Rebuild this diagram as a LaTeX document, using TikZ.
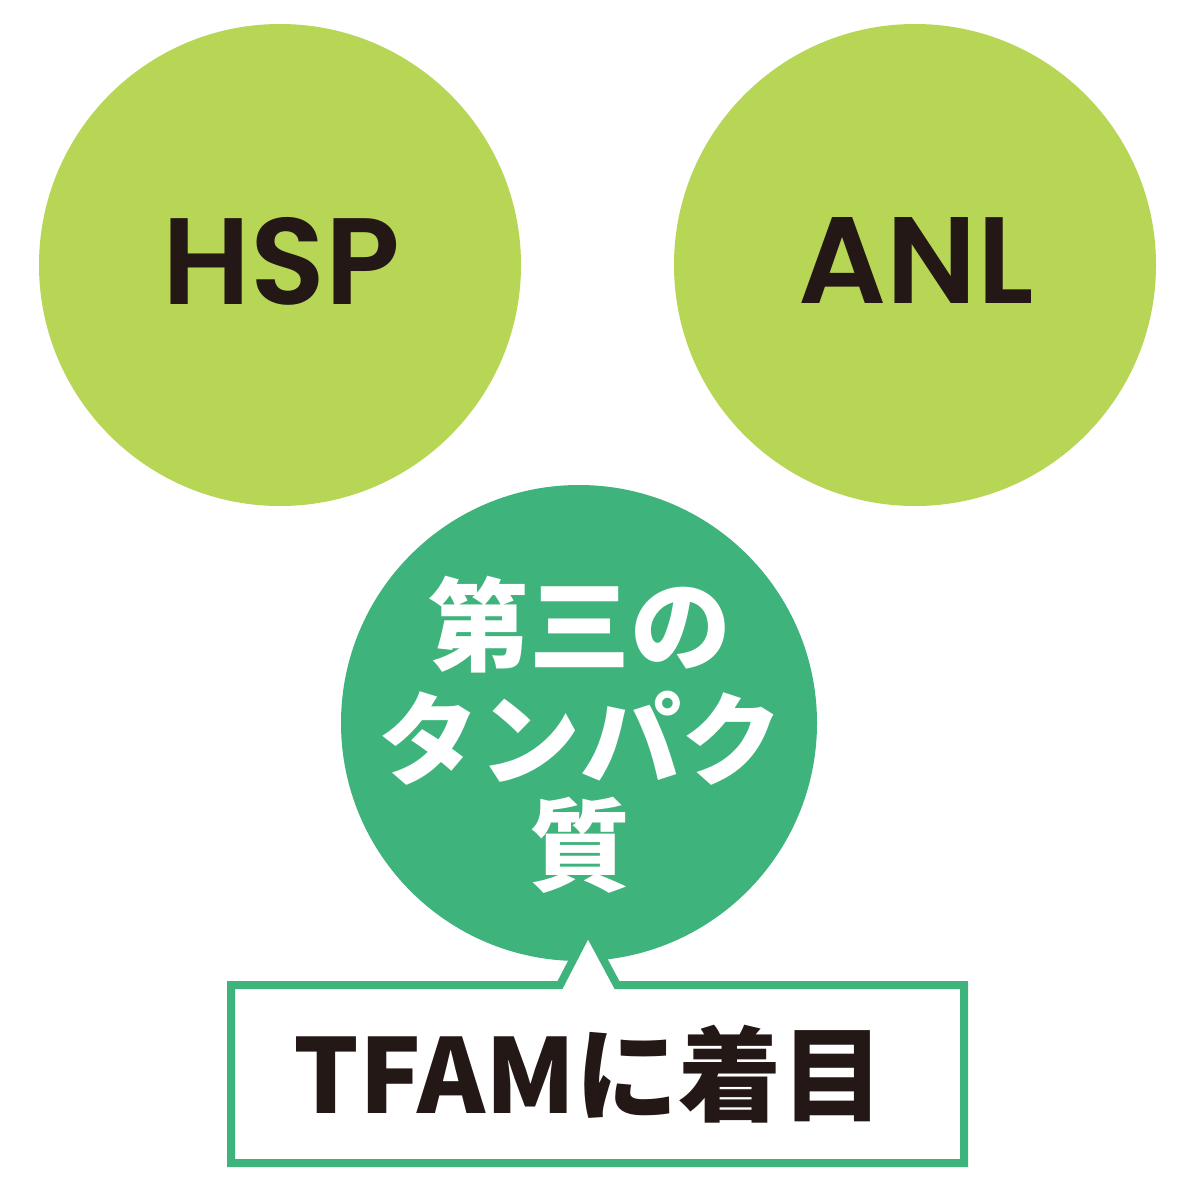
\documentclass[tikz,border=0pt]{standalone}
\usepackage{fontspec}
\newfontfamily\popfont{Poppins SemiBold}
\newfontfamily\jpfont{Noto Sans CJK JP}
\definecolor{lightgreen}{HTML}{B8D655}
\definecolor{darkgreen}{HTML}{3FB37C}
\definecolor{inkdark}{HTML}{231815}
\begin{document}
\begin{tikzpicture}[x=1pt,y=-1pt,
  latin/.style={inner sep=0pt,text=inkdark,font=\popfont\fontsize{123}{123}\selectfont},
  jptext/.style={inner sep=0pt,text=white,font=\jpfont\bfseries\fontsize{101}{101}\selectfont},
  calltext/.style={inner sep=0pt,text=inkdark,font=\jpfont\bfseries\fontsize{103}{103}\selectfont},
  callline/.style={draw=darkgreen,line width=8pt,line join=miter}]
\useasboundingbox (0,0) rectangle (1200,1200);
\fill[white] (0,0) rectangle (1200,1200);
% circles
\fill[lightgreen] (280,265) circle[radius=241];
\fill[lightgreen] (915,265) circle[radius=241];
\fill[darkgreen] (579,723) circle[radius=238];
\node[latin] (hsp) at (281,261) {HSP};
\node[latin] (anl) at (916,261) {ANL};
\node[jptext] (t1) at (580,625) {第三の};
\node[jptext] (t2) at (580,738) {タンパク};
\node[jptext] (t3) at (580,845) {質};
% callout
\coordinate (tip) at (588,931);
\coordinate (bl) at (560,985);
\coordinate (br) at (617,985);
\fill[white] (bl) -- (tip) -- (br) -- cycle;
\draw[callline] (bl) -- (tip) -- (br) -- (964,985) -- (964,1163) -- (231,1163) -- (231,985) -- cycle;
\node[calltext] (tfam) at (589,1074) {TFAMに着目};
\end{tikzpicture}
\end{document}
